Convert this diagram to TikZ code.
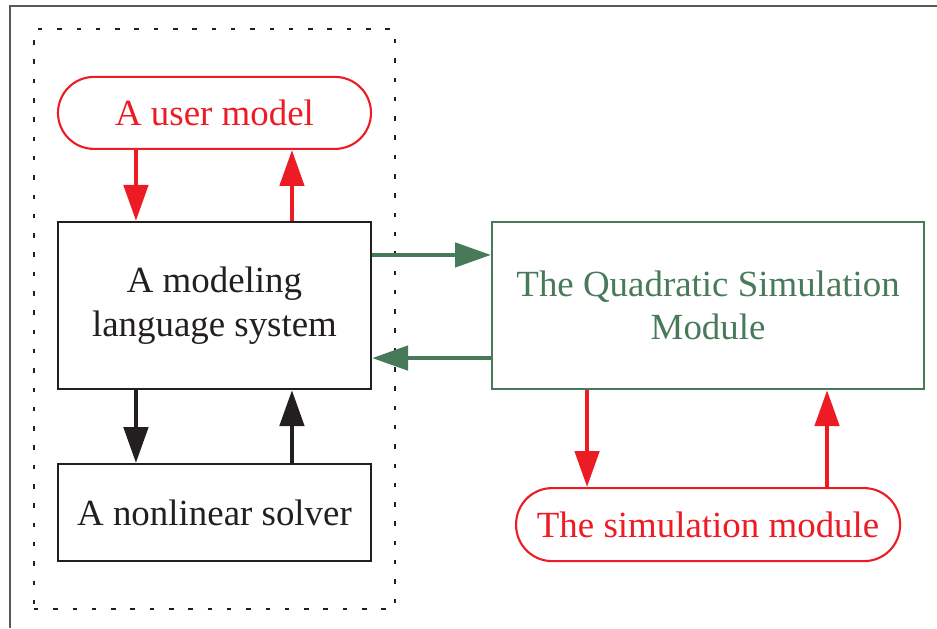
\documentclass[tikz,border=0pt]{standalone}
\usepackage{fontspec}
\setmainfont{Liberation Serif}
\usetikzlibrary{arrows.meta,positioning,fit}
\definecolor{capred}{RGB}{237,28,36}
\definecolor{modgreen}{RGB}{72,122,90}
\definecolor{inkblack}{RGB}{35,31,32}

\begin{document}
\begin{tikzpicture}[
					font=\fontsize{10.5}{12.4}\selectfont,
					box/.style={rectangle,draw=inkblack,text=inkblack,line width=0.6pt,align=center,inner sep=0pt,minimum width=3.13cm},
					capsule/.style={box,rounded corners=0.36cm,draw=capred,text=capred},
					flow/.style={line width=1.35pt,-{Triangle[width=0.24cm,length=0.36cm]}},
					]
					\useasboundingbox (0,0) rectangle (9.37,-6.28);
					\draw[inkblack!75,line width=0.4pt] (9.37,-0.06) -- (0.1,-0.06) -- (0.1,-6.28);
					\node [box,minimum height=1.67cm] (lang) at (2.145,-3.055) {A modeling\\ language system};
					\node [capsule,minimum height=0.72cm,above=0.71cm of lang] (user) {A user model};
					\node [box,minimum height=0.97cm,below=0.73cm of lang] (solver) {A nonlinear solver};
					\node [box,draw=modgreen,text=modgreen,minimum width=4.32cm,minimum height=1.67cm,right=1.19cm of lang] (qsm) {The Quadratic Simulation\\ Module};
					\node [capsule,minimum width=3.84cm,minimum height=0.73cm,below=0.97cm of qsm] (sim) {The simulation module};
					\node [draw=inkblack,line width=0.6pt,dash pattern=on 0.045cm off 0.148cm,inner xsep=0.23cm,inner ysep=0.465cm,fit=(user)(lang)(solver)] (group) {};
					% user model <-> language system
					\draw[flow,capred] ([xshift=0.79cm]user.south west) -- ([xshift=0.79cm]lang.north west);
					\draw[flow,capred] ([xshift=2.35cm]lang.north west) -- ([xshift=2.35cm]user.south west);
					% language system <-> solver
					\draw[flow,inkblack] ([xshift=0.79cm]lang.south west) -- ([xshift=0.79cm]solver.north west);
					\draw[flow,inkblack] ([xshift=2.35cm]solver.north west) -- ([xshift=2.35cm]lang.south west);
					% language system <-> quadratic module
					\draw[flow,modgreen] ([yshift=-0.34cm]lang.north east) -- ([yshift=-0.34cm]qsm.north west);
					\draw[flow,modgreen] ([yshift=0.32cm]qsm.south west) -- ([yshift=0.32cm]lang.south east);
					% quadratic module <-> simulation module
					\draw[flow,capred] ([xshift=0.96cm]qsm.south west) -- ([xshift=0.72cm]sim.north west);
					\draw[flow,capred] ([xshift=3.12cm]sim.north west) -- ([xshift=3.36cm]qsm.south west);
				\end{tikzpicture}
\end{document}
